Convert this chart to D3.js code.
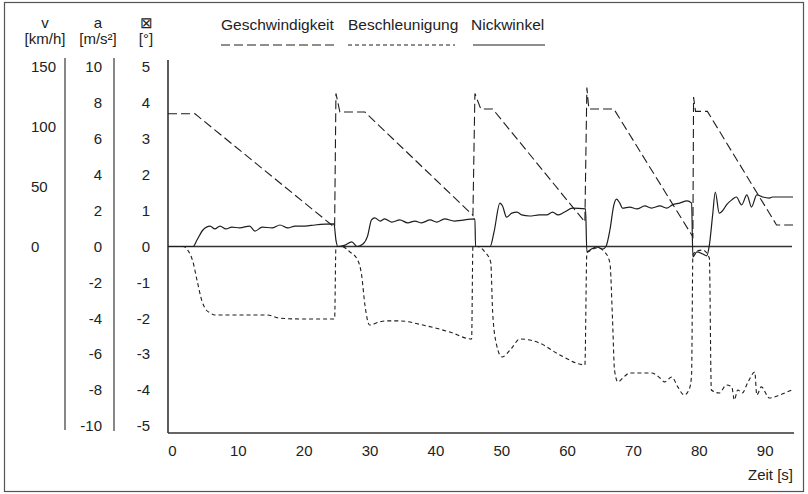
<!DOCTYPE html>
<html>
<head>
<meta charset="utf-8">
<script src="https://cdn.jsdelivr.net/npm/d3@7"></script>
<style>
  body { margin: 0; background: #fff; }
  svg text { font-family: "Liberation Sans", Arial, sans-serif; font-size: 15px; fill: #222; }
</style>
</head>
<body>
<svg id="chart" width="808" height="494"></svg>
<script>
// chart data
const legendNames = ['Geschwindigkeit', 'Beschleunigung', 'Nickwinkel'];
const timeTicks = [0, 10, 20, 30, 40, 50, 60, 70, 80, 90];
const speedTicks = [150, 100, 50, 0];
const accTicks = [10, 8, 6, 4, 2, 0, -2, -4, -6, -8, -10];
const angleTicks = [5, 4, 3, 2, 1, 0, -1, -2, -3, -4, -5];

// Geschwindigkeit [km/h]
const speedT = [-0.6, 3.5, 24.7, 24.9, 25.5, 29.3, 45.7, 46.0, 46.9, 48.7, 62.7, 63.0, 63.3, 67.1, 79.1, 79.2, 79.5, 81.3, 91.8, 94.3];
const speedV = [111, 111, 16, 128, 112.5, 112.5, 26, 128, 115, 115, 20.5, 133, 115, 115, 8, 125, 113, 113, 18, 18];

// Beschleunigung [m/s²]
const accT = [-0.6, 1.7, 2.4, 3.2, 3.8, 4.6, 5.2, 5.8, 6.5, 14.4, 16.4, 19.4, 24.7, 24.9,
  25.8, 27.0, 28.2, 28.8, 29.3, 30.0, 31.6, 32.6, 34.6, 38.1, 42.2, 45.5, 45.7,
  46.4, 47.5, 48.4, 48.7, 49.3, 50.1, 51.6, 52.8, 55.8, 58.9, 62.7, 63.0,
  63.4, 64.6, 65.7, 66.5, 66.9, 67.2, 67.7, 68.6, 69.5, 72.8, 74.1, 74.8, 75.9, 76.8, 77.8, 78.6, 78.9, 79.1,
  79.7, 80.6, 81.6, 81.9, 83.1, 84.2, 85.0, 85.4, 85.9, 86.6, 87.4, 88.5, 88.8, 89.5, 90.7, 92.3, 94.1];
const accV = [0, 0, -0.2, -0.87, -1.87, -3.1, -3.54, -3.7, -3.82, -3.82, -4.0, -4.04, -4.04, 0,
  0, -0.3, -0.75, -1.6, -3.26, -4.38, -4.2, -4.15, -4.15, -4.38, -4.77, -5.16, 0,
  0, -0.3, -0.87, -3.7, -5.5, -6.16, -5.66, -5.16, -5.38, -6.05, -6.6, -0.36,
  -0.25, -0.08, -0.3, -0.92, -4.1, -6.9, -7.55, -7.28, -7.05, -7.05, -7.33, -7.55, -7.28, -7.83, -8.28, -7.9, -7.16, -0.47,
  -0.25, -0.2, -0.64, -8.0, -8.17, -7.72, -7.83, -8.56, -8.0, -8.17, -7.61, -7.0, -8.28, -7.83, -8.45, -8.28, -8.0];

// Nickwinkel [°]
const pitchT = [-0.6, 3.2, 3.8, 4.7, 5.8, 6.5, 7.3, 8.2, 9.1, 10.3, 11.8, 12.6, 13.7, 15.2, 16.4, 17.6, 18.7, 20.2, 21.7, 24.6, 24.9, 25.2,
  26.3, 27.3, 28.1, 29.0, 29.7, 30.3, 30.8, 31.6, 32.3, 33.4, 34.6, 35.8, 36.9, 37.9, 39.2, 40.2, 41.4, 42.9, 46.0, 46.1,
  48.3, 48.9, 49.8, 50.2, 50.8, 51.6, 52.4, 53.1, 54.3, 55.8, 56.9, 57.8, 58.6, 59.6, 60.8, 62.8, 63.0,
  63.7, 64.5, 65.4, 65.9, 66.5, 67.1, 67.5, 68.0, 68.4, 69.5, 70.6, 71.8, 72.8, 74.1, 75.1, 76.0, 77.1, 78.2, 78.9, 79.1,
  79.7, 80.6, 81.2, 81.6, 82.1, 82.5, 83.1, 83.7, 84.2, 85.0, 85.7, 86.5, 87.3, 88.0, 88.8, 89.7, 90.7, 91.2, 94.3];
const pitchV = [0, 0, 0.18, 0.46, 0.57, 0.49, 0.57, 0.49, 0.54, 0.52, 0.57, 0.43, 0.54, 0.52, 0.6, 0.52, 0.57, 0.57, 0.6, 0.63, 0.18, 0,
  0.04, 0.13, 0, 0.07, 0.29, 0.74, 0.8, 0.71, 0.77, 0.68, 0.74, 0.66, 0.71, 0.66, 0.74, 0.68, 0.77, 0.71, 0.77, 0,
  0, 0.4, 1.21, 1.13, 0.82, 0.93, 0.96, 0.88, 0.85, 0.88, 0.88, 0.96, 0.88, 0.96, 1.07, 1.05, -0.15,
  -0.07, -0.01, -0.07, 0, 0.46, 1.16, 1.32, 1.21, 1.07, 1.1, 1.05, 1.13, 1.07, 1.13, 1.07, 1.16, 1.21, 1.27, 1.21, -0.29,
  -0.15, -0.21, -0.26, 0.04, 0.88, 1.52, 0.93, 1.02, 1.16, 1.3, 1.38, 1.16, 1.44, 1.1, 1.44, 1.38, 1.35, 1.38, 1.38];

const svg = d3.select('#chart');
const ink = '#1e1e1e';

// Plot box
const plotLeft = 168, plotRight = 793, plotTop = 60, plotBottom = 433;

// Scales - the three y scales share the same pixel range
const x = d3.scaleLinear().domain([-0.6, 94.3]).range([plotLeft, plotRight]);
const yAngle = d3.scaleLinear().domain([-5.2, 5.2]).range([plotBottom, plotTop]);
const ySpeed = d3.scaleLinear().domain([-156, 156]).range([plotBottom, plotTop]);
const yAcc = d3.scaleLinear().domain([-10.4, 10.4]).range([plotBottom, plotTop]);

// Outer frame
svg.append('rect')
  .attr('x', 4.5).attr('y', 2.5)
  .attr('width', 799).attr('height', 489)
  .attr('fill', 'none')
  .attr('stroke', '#555')
  .attr('stroke-width', 1.2);

// Column headers
const headers = [
  { x: 45, top: 'v', unit: '[km/h]' },
  { x: 98, top: 'a', unit: '[m/s²]' },
  { x: 146, top: '⊠', unit: '[°]' }
];
headers.forEach(h => {
  svg.append('text').attr('x', h.x).attr('y', 28).attr('text-anchor', 'middle').text(h.top);
  svg.append('text').attr('x', h.x).attr('y', 44).attr('text-anchor', 'middle').text(h.unit);
});

// Side scale spines
svg.append('line').attr('x1', 65).attr('x2', 65).attr('y1', 58).attr('y2', 430)
  .attr('stroke', '#555').attr('stroke-width', 1.4);
svg.append('line').attr('x1', 114).attr('x2', 114).attr('y1', 58).attr('y2', 431)
  .attr('stroke', '#555').attr('stroke-width', 1.4);

// Speed labels (left aligned)
const speedAxis = svg.append('g')
  .call(d3.axisLeft(ySpeed).tickValues(speedTicks).tickSize(0).tickPadding(0).tickFormat(d3.format('d')));
speedAxis.select('.domain').remove();
speedAxis.selectAll('text')
  .attr('x', 31)
  .attr('text-anchor', 'start');

// Acceleration labels
const accAxis = svg.append('g')
  .attr('transform', 'translate(102,0)')
  .call(d3.axisLeft(yAcc).tickValues(accTicks).tickSize(0).tickPadding(0).tickFormat(d3.format('d')));
accAxis.select('.domain').remove();

// Angle labels
const angleAxis = svg.append('g')
  .attr('transform', 'translate(150,0)')
  .call(d3.axisLeft(yAngle).tickValues(angleTicks).tickSize(0).tickPadding(0).tickFormat(d3.format('d')));
angleAxis.select('.domain').remove();

// Plot axes
svg.append('line').attr('x1', plotLeft).attr('x2', plotLeft).attr('y1', plotTop).attr('y2', plotBottom)
  .attr('stroke', '#333').attr('stroke-width', 1.6);
svg.append('line').attr('x1', plotLeft).attr('x2', plotRight + 1).attr('y1', plotBottom).attr('y2', plotBottom)
  .attr('stroke', '#333').attr('stroke-width', 1.6);
svg.append('line').attr('x1', plotLeft).attr('x2', plotRight - 1).attr('y1', yAngle(0)).attr('y2', yAngle(0))
  .attr('stroke', '#333').attr('stroke-width', 1.3);

// Time labels
const xAxis = svg.append('g')
  .attr('transform', `translate(0,${plotBottom})`)
  .call(d3.axisBottom(x).tickValues(timeTicks).tickSize(0).tickPadding(12));
xAxis.select('.domain').remove();

svg.append('text')
  .attr('x', 793).attr('y', 480)
  .attr('text-anchor', 'end')
  .text('Zeit [s]');

// plain hyphen minus and common style for all tick labels
svg.selectAll('.tick text')
  .text(function () { return this.textContent.replace('\u2212', '-'); })
  .attr('fill', '#222')
  .style('font-size', '15px')
  .style('font-family', '"Liberation Sans", Arial, sans-serif');

// Series
const speedData = speedT.map((t, i) => [t, speedV[i]]);
const accData = accT.map((t, i) => [t, accV[i]]);
const pitchData = pitchT.map((t, i) => [t, pitchV[i]]);

const speedLine = d3.line().x(d => x(d[0])).y(d => ySpeed(d[1]));
const accLine = d3.line().x(d => x(d[0])).y(d => yAcc(d[1])).curve(d3.curveMonotoneX);
const pitchLine = d3.line().x(d => x(d[0])).y(d => yAngle(d[1])).curve(d3.curveMonotoneX);

const dashes = ['9,4', '4,3', null];

svg.append('path').datum(speedData)
  .attr('d', speedLine)
  .attr('fill', 'none').attr('stroke', ink).attr('stroke-width', 1.1)
  .attr('stroke-dasharray', dashes[0]);

svg.append('path').datum(accData)
  .attr('d', accLine)
  .attr('fill', 'none').attr('stroke', ink).attr('stroke-width', 1.1)
  .attr('stroke-dasharray', dashes[1]);

svg.append('path').datum(pitchData)
  .attr('d', pitchLine)
  .attr('fill', 'none').attr('stroke', ink).attr('stroke-width', 1.2);

// Legend
const legendX = [221, 348, 471];
const legendLen = [114, 107, 72];
legendNames.forEach((name, i) => {
  svg.append('text').attr('x', legendX[i]).attr('y', 30)
    .style('font-size', '15.5px').text(name);
  const l = svg.append('line')
    .attr('x1', legendX[i] + (i === 2 ? 2 : 0))
    .attr('x2', legendX[i] + (i === 2 ? 2 : 0) + legendLen[i])
    .attr('y1', 45).attr('y2', 45)
    .attr('stroke', ink).attr('stroke-width', 1.2);
  if (dashes[i]) l.attr('stroke-dasharray', dashes[i]);
});
</script>
</body>
</html>
